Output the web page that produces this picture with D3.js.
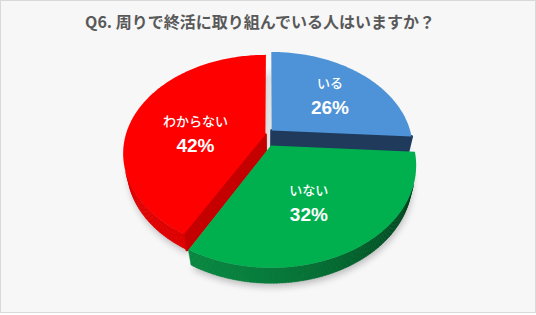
<!DOCTYPE html>
<html>
<head>
<meta charset="utf-8">
<script src="https://cdn.jsdelivr.net/npm/d3@7"></script>
<style>
  body { margin: 0; background: #fff; }
  svg { display: block; font-family: "Noto Sans CJK JP", "Noto Sans", sans-serif; }
</style>
</head>
<body>
<svg id="chart"></svg>
<script>
var width = 536, height = 315;

// the data
var title = "Q6. 周りで終活に取り組んでいる人はいますか？";
var categories = ["いる", "いない", "わからない"];
var values = [26, 32, 42];

// colours for each slice: top face, cut face, outer side (lit / shaded)
var topColor  = ["#4e92d7", "#00b04f", "#ff0000"];
var cutColor  = ["#1f3a5b", "#00632b", "#c40000"];
var sideLight = ["#2f5f92", "#0a8a43", "#e00000"];
var sideDark  = ["#1a3350", "#003c1a", "#9a0000"];

// a small perspective camera for the 3D look
var cam = {cx: 269, cy: 137, F: 544, D: 3.88, tilt: 43 * Math.PI / 180};
var thick = 0.16, explodeX = 0.027, explodeY = 0.1;
var cosT = Math.cos(cam.tilt), sinT = Math.sin(cam.tilt);
var camPos = [0, cam.D * cosT, cam.D * sinT];

function project(p) {
  var depth = cam.D - (p[1] * cosT + p[2] * sinT);
  var up = -p[1] * sinT + p[2] * cosT;
  return [cam.cx + cam.F * p[0] / depth, cam.cy - cam.F * up / depth, depth];
}

var svg = d3.select("#chart")
    .attr("width", width)
    .attr("height", height);

// background + frame
svg.append("rect")
    .attr("x", 0.5).attr("y", 0.5)
    .attr("width", width - 1).attr("height", height - 3)
    .attr("fill", "#f7f7f7")
    .attr("stroke", "#d9d9d9");

svg.append("text")
    .attr("x", 260).attr("y", 28)
    .attr("text-anchor", "middle")
    .attr("font-size", 16)
    .attr("font-weight", "bold")
    .attr("fill", "#595959")
    .text(title);

var defs = svg.append("defs");
defs.append("filter").attr("id", "blur")
    .attr("x", "-20%").attr("y", "-20%").attr("width", "140%").attr("height", "140%")
  .append("feGaussianBlur").attr("stdDeviation", 3);

var arcs = d3.pie().sort(null).value(function(d) { return d; })(values);

var sides = [], tops = [], shadows = [];
var line = d3.line();

arcs.forEach(function(a, i) {
  var mid = (a.startAngle + a.endAngle) / 2;
  var ox = explodeX * Math.sin(mid), oy = -explodeY * Math.cos(mid);
  function pt(r, t, z) { return [ox + r * Math.sin(t), oy - r * Math.cos(t), z]; }
  function facing(p, nx, ny) {
    return (camPos[0] - p[0]) * nx + (camPos[1] - p[1]) * ny;
  }

  var n = Math.ceil((a.endAngle - a.startAngle) / (Math.PI / 180));
  var rim = d3.range(n + 1).map(function(k) {
    return a.startAngle + (a.endAngle - a.startAngle) * k / n;
  });
  var apex = pt(0, 0, 0), apexB = pt(0, 0, -thick);

  tops.push({i: i, pts: [apex].concat(rim.map(function(t) { return pt(1, t, 0); }))});
  shadows.push([apexB].concat(rim.map(function(t) { return pt(1, t, -thick); })));

  // outer curved side
  for (var k = 0; k < n; k++) {
    var t0 = rim[k], t1 = rim[k + 1], tm = (t0 + t1) / 2;
    if (facing(pt(1, tm, 0), Math.sin(tm), -Math.cos(tm)) <= 0) continue;
    var lit = -0.707 * Math.sin(tm) - 0.707 * Math.cos(tm);
    var s = Math.max(0, Math.min(1, (lit + 0.45) / 1.45));
    sides.push({
      pts: [pt(1, t0, 0), pt(1, t1 + 0.003, 0), pt(1, t1 + 0.003, -thick), pt(1, t0, -thick)],
      fill: d3.interpolateRgb(sideDark[i], sideLight[i])(s),
      sw: 0.4
    });
  }

  // the two cut faces (skip the ones seen edge-on)
  [[a.startAngle, -Math.cos(a.startAngle), -Math.sin(a.startAngle)],
   [a.endAngle, Math.cos(a.endAngle), Math.sin(a.endAngle)]].forEach(function(f) {
    var r1 = pt(1, f[0], 0);
    if (facing([(apex[0] + r1[0]) / 2, (apex[1] + r1[1]) / 2], f[1], f[2]) < 0.2) return;
    sides.push({
      pts: [apex, r1, pt(1, f[0], -thick), apexB],
      fill: cutColor[i],
      sw: 3
    });
  });
});

// soft shadow under the pie
svg.append("g")
    .attr("filter", "url(#blur)")
    .attr("transform", "translate(1,4)")
  .selectAll("path")
  .data(shadows)
  .enter().append("path")
    .attr("d", function(d) { return line(d.map(project)) + "Z"; })
    .attr("fill", "#000")
    .attr("fill-opacity", 0.22);

// sides back to front
sides.forEach(function(f) {
  f.proj = f.pts.map(project);
  f.depth = d3.mean(f.proj, function(p) { return p[2]; });
});
sides.sort(function(a, b) { return b.depth - a.depth; });

svg.append("g").selectAll("path")
  .data(sides)
  .enter().append("path")
    .attr("d", function(d) { return line(d.proj) + "Z"; })
    .attr("fill", function(d) { return d.fill; })
    .attr("stroke", function(d) { return d.fill; })
    .attr("stroke-linejoin", "round")
    .attr("stroke-width", function(d) { return d.sw; });

var topG = svg.append("g");
topG.selectAll("path")
  .data(tops)
  .enter().append("path")
    .attr("d", function(d) { return line(d.pts.map(project)) + "Z"; })
    .attr("fill", function(d) { return topColor[d.i]; });

// labels at the centroid of each drawn top face
var labels = svg.append("g").attr("text-anchor", "middle").attr("fill", "#fff");
tops.forEach(function(d) {
  var c = d3.polygonCentroid(d.pts.map(project));
  labels.append("text")
      .attr("x", c[0]).attr("y", c[1] - 11)
      .attr("font-size", 13)
      .attr("font-weight", 500)
      .text(categories[d.i]);
  labels.append("text")
      .attr("x", c[0]).attr("y", c[1] + 15)
      .attr("font-size", 19)
      .attr("font-weight", "bold")
      .attr("font-family", "'Liberation Sans', Arial, sans-serif")
      .text(values[d.i] + "%");
});
</script>
</body>
</html>
